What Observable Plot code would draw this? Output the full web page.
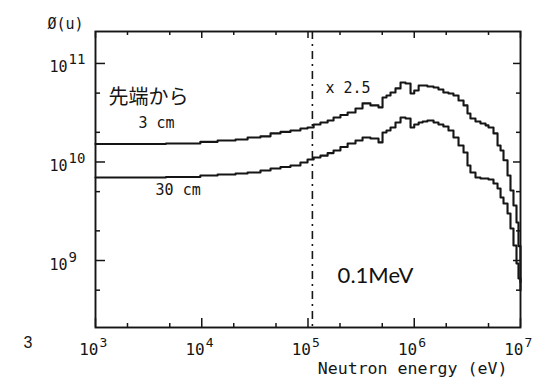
<!DOCTYPE html>
<html>
<head>
<meta charset="utf-8">
<script src="https://cdn.jsdelivr.net/npm/d3@7"></script>
<script src="https://cdn.jsdelivr.net/npm/@observablehq/plot@0.6"></script>
<style>
  html, body { margin: 0; padding: 0; background: #fff; }
  #chart svg { display: block; }
</style>
</head>
<body>
<div id="chart"></div>
<script>
// Neutron energy grid (eV), start of each histogram bin
const energy = [
  1.0e3, 4.6e3, 9.7e3, 1.41e4, 2.08e4, 2.70e4, 3.57e4, 4.44e4, 5.51e4, 6.84e4,
  8.49e4, 9.9e4, 1.13e5, 1.31e5, 1.53e5, 1.74e5, 2.02e5, 2.36e5, 2.80e5, 3.26e5,
  3.87e5, 4.61e5, 5.03e5, 5.48e5, 5.98e5, 6.66e5, 7.43e5, 8.28e5, 9.23e5, 1.00e6,
  1.10e6, 1.20e6, 1.33e6, 1.52e6, 1.69e6, 1.88e6, 2.10e6, 2.34e6, 2.61e6, 2.91e6,
  3.17e6, 3.38e6, 3.77e6, 4.20e6, 4.69e6, 5.00e6, 5.57e6, 6.08e6, 6.49e6, 6.92e6,
  7.55e6, 8.05e6, 8.59e6, 9.17e6, 9.57e6, 1.0e7
];
// 3 cm from the tip (x 2.5)
const flux3cm = [
  1.52e10, 1.54e10, 1.60e10, 1.65e10, 1.69e10, 1.77e10, 1.82e10, 1.95e10, 2.02e10, 2.09e10,
  2.19e10, 2.24e10, 2.40e10, 2.52e10, 2.64e10, 2.83e10, 3.00e10, 3.18e10, 3.49e10, 3.93e10,
  3.75e10, 3.58e10, 4.52e10, 4.73e10, 5.08e10, 5.58e10, 6.41e10, 6.27e10, 4.96e10, 5.32e10,
  5.98e10, 5.98e10, 5.84e10, 5.71e10, 5.45e10, 5.08e10, 4.96e10, 4.73e10, 4.21e10, 3.75e10,
  3.11e10, 2.76e10, 2.58e10, 2.46e10, 2.35e10, 2.24e10, 1.95e10, 1.47e10, 1.31e10, 1.04e10,
  7.30e9, 5.14e9, 3.62e9, 2.43e9, 1.40e9, 6.0e8
];
// 30 cm from the tip
const flux30cm = [
  6.96e9, 7.04e9, 7.30e9, 7.47e9, 7.64e9, 7.82e9, 8.20e9, 8.59e9, 8.90e9, 9.21e9,
  9.88e9, 1.06e10, 1.11e10, 1.16e10, 1.23e10, 1.31e10, 1.42e10, 1.54e10, 1.65e10, 1.77e10,
  1.73e10, 1.58e10, 1.99e10, 2.09e10, 2.24e10, 2.52e10, 2.83e10, 2.76e10, 2.24e10, 2.40e10,
  2.52e10, 2.58e10, 2.64e10, 2.52e10, 2.40e10, 2.29e10, 2.09e10, 1.77e10, 1.47e10, 1.25e10,
  9.21e9, 7.82e9, 6.96e9, 6.80e9, 6.80e9, 6.64e9, 6.05e9, 5.38e9, 4.36e9, 3.79e9,
  3.00e9, 2.11e9, 1.42e9, 9.32e8, 6.57e8, 4.96e8
];
const seriesNames = ["3 cm", "30 cm"];

const xMajorTicks = [1e3, 1e4, 1e5, 1e6, 1e7];
const xExponents = ["3", "4", "5", "6", "7"];
const xMinorTicks = [2e3, 5e3, 2e4, 5e4, 2e5, 5e5, 2e6, 5e6];
const yMajorTicks = [1e9, 1e10, 1e11];
const yExponents = ["9", "10", "11"];
const yMinorTicks = [5e8, 2e9, 5e9, 2e10, 5e10];
const cutoffEnergy = [1.1e5];

const rows = [];
energy.forEach((e, i) => {
  rows.push({series: seriesNames[0], energy: e, flux: flux3cm[i]});
  rows.push({series: seriesNames[1], energy: e, flux: flux30cm[i]});
});

const W = 543, H = 382, mL = 95, mR = 23, mT = 31, mB = 55;
const fw = W - mL - mR, fh = H - mT - mB;
const mono = "DejaVu Sans Mono";
const ink = "#151515";

const chart = Plot.plot({
  width: W, height: H,
  marginLeft: mL, marginRight: mR, marginTop: mT, marginBottom: mB,
  style: {background: "#fff", fontFamily: mono, color: ink},
  x: {type: "log", domain: [1e3, 1e7], axis: null},
  y: {type: "log", domain: [2.09e8, 2.11e11], axis: null},
  marks: [
    Plot.frame({stroke: ink, strokeWidth: 1.9}),
    // ticks, pointing inward
    Plot.tickX(xMajorTicks, {x: d => d, insetTop: fh - 9, stroke: ink, strokeWidth: 1.5}),
    Plot.tickX(xMinorTicks, {x: d => d, insetTop: fh - 4, stroke: ink, strokeWidth: 1.5}),
    Plot.tickX(xMajorTicks, {x: d => d, insetBottom: fh - 7, stroke: ink, strokeWidth: 1.5}),
    Plot.tickX(xMinorTicks, {x: d => d, insetBottom: fh - 4, stroke: ink, strokeWidth: 1.5}),
    Plot.tickY(yMajorTicks, {y: d => d, insetRight: fw - 10, stroke: ink, strokeWidth: 1.5}),
    Plot.tickY(yMinorTicks, {y: d => d, insetRight: fw - 5, stroke: ink, strokeWidth: 1.5}),
    Plot.tickY(yMajorTicks, {y: d => d, insetLeft: fw - 7, stroke: ink, strokeWidth: 1.5}),
    Plot.tickY(yMinorTicks, {y: d => d, insetLeft: fw - 4, stroke: ink, strokeWidth: 1.5}),
    // 0.1 MeV dash-dot line
    Plot.ruleX(cutoffEnergy, {x: d => d, stroke: ink, strokeWidth: 1.6, strokeDasharray: "8,5,2,5"}),
    // spectra
    Plot.line(rows, {x: "energy", y: "flux", z: "series", curve: "step-after", stroke: ink, strokeWidth: 2.1}),
    // x tick labels
    Plot.text(xMajorTicks, {x: d => d, frameAnchor: "bottom", text: () => "10", textAnchor: "end",
      lineAnchor: "bottom", dx: 3, dy: 27, fontSize: 16, fill: ink}),
    Plot.text(xMajorTicks, {x: d => d, frameAnchor: "bottom", text: (d, i) => xExponents[i], textAnchor: "start",
      lineAnchor: "bottom", dx: 4, dy: 19, fontSize: 13, fill: ink}),
    // y tick labels
    Plot.text(yMajorTicks, {y: d => d, frameAnchor: "left", text: () => "10", textAnchor: "end",
      lineAnchor: "bottom", dx: -28, dy: 9, fontSize: 15, fill: ink}),
    Plot.text(yMajorTicks, {y: d => d, frameAnchor: "left", text: (d, i) => yExponents[i], textAnchor: "start",
      lineAnchor: "bottom", dx: -27, dy: 1, fontSize: 14, fill: ink}),
    // axis titles
    Plot.text(["Ø(u)"], {frameAnchor: "top-left", text: d => d, textAnchor: "start", lineAnchor: "bottom",
      dx: -48, dy: -3, fontSize: 15, fill: ink}),
    Plot.text(["Neutron energy (eV)"], {frameAnchor: "bottom-right", text: d => d, textAnchor: "end",
      lineAnchor: "bottom", dx: -13, dy: 46, fontSize: 16.6, fill: ink}),
    Plot.text(["3"], {frameAnchor: "bottom-left", text: d => d, textAnchor: "start", lineAnchor: "bottom",
      dx: -72, dy: 20, fontSize: 16, fontFamily: "Liberation Sans", fill: ink}),
    // annotations
    Plot.text(["先端から"], {x: () => 1326, y: () => 3.84e10, text: d => d, textAnchor: "start",
      lineAnchor: "bottom", fontSize: 20, fontFamily: "Noto Sans CJK JP", fill: ink}),
    Plot.text(["3 cm"], {x: () => 2541, y: () => 2.19e10, text: d => d, textAnchor: "start",
      lineAnchor: "bottom", fontSize: 15, fill: ink}),
    Plot.text(["30 cm"], {x: () => 3673, y: () => 4.57e9, text: d => d, textAnchor: "start",
      lineAnchor: "bottom", fontSize: 15, fill: ink}),
    Plot.text(["x 2.5"], {x: () => 1.46e5, y: () => 4.96e10, text: d => d, textAnchor: "start",
      lineAnchor: "bottom", fontSize: 15, fill: ink}),
    Plot.text(["0.1MeV"], {x: () => 1.90e5, y: () => 5.98e8, text: d => d, textAnchor: "start",
      lineAnchor: "bottom", fontSize: 22, fontFamily: "Lato", letterSpacing: "2px", fill: "#111"})
  ]
});
document.getElementById("chart").appendChild(chart);
</script>
</body>
</html>
